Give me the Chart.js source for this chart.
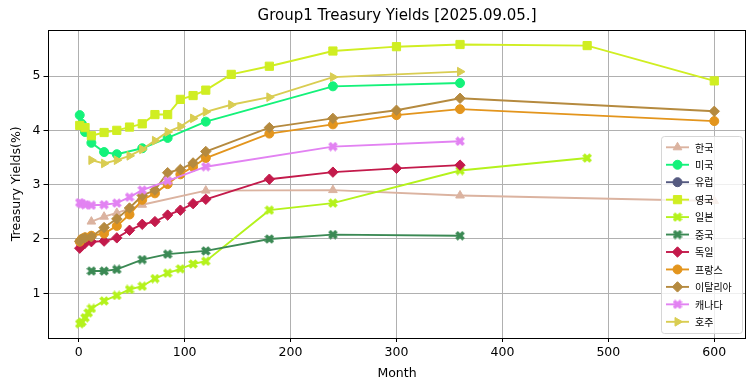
<!DOCTYPE html>
<html>
<head>
<meta charset="utf-8">
<script src="https://cdn.jsdelivr.net/npm/chart.js@4/dist/chart.umd.min.js"></script>
<style>
  html, body { margin: 0; padding: 0; background: #fff; }
  #wrap { width: 755px; height: 391px; }
</style>
</head>
<body>
<div id="wrap"><canvas id="yieldCanvas"></canvas></div>
<script>
const titleText = 'Group1 Treasury Yields [2025.09.05.]';
const xTicks = [0, 100, 200, 300, 400, 500, 600];
const yTicks = [1, 2, 3, 4, 5];
const names = ['한국', '미국', '유럽', '영국', '일본', '중국', '독일', '프랑스', '이탈리아', '캐나다', '호주'];

// maturities in months, yields in %
const krMonths = [12, 24, 36, 60, 120, 240, 360, 600];
const krYields = [2.32, 2.41, 2.48, 2.63, 2.89, 2.90, 2.80, 2.70];
const usMonths = [1, 3, 6, 12, 24, 36, 60, 84, 120, 240, 360];
const usYields = [4.28, 4.12, 3.97, 3.77, 3.60, 3.56, 3.67, 3.86, 4.16, 4.81, 4.87];
const euMonths = [];
const euYields = [];
const ukMonths = [1, 6, 12, 24, 36, 48, 60, 72, 84, 96, 108, 120, 144, 180, 240, 300, 360, 480, 600];
const ukYields = [4.09, 4.05, 3.90, 3.96, 4.00, 4.06, 4.12, 4.29, 4.29, 4.57, 4.64, 4.74, 5.03, 5.18, 5.46, 5.54, 5.58, 5.56, 4.91];
const jpMonths = [1, 3, 6, 9, 12, 24, 36, 48, 60, 72, 84, 96, 108, 120, 180, 240, 360, 480];
const jpYields = [0.44, 0.47, 0.55, 0.64, 0.72, 0.86, 0.96, 1.07, 1.13, 1.27, 1.37, 1.45, 1.54, 1.59, 2.53, 2.66, 3.26, 3.49];
const cnMonths = [12, 24, 36, 60, 84, 120, 180, 240, 360];
const cnYields = [1.41, 1.41, 1.44, 1.62, 1.72, 1.78, 2.00, 2.08, 2.06];
const deMonths = [1, 3, 6, 12, 24, 36, 48, 60, 72, 84, 96, 108, 120, 180, 240, 300, 360];
const deYields = [1.83, 1.88, 1.92, 1.95, 1.96, 2.02, 2.16, 2.27, 2.32, 2.44, 2.53, 2.65, 2.73, 3.10, 3.23, 3.30, 3.36];
const frMonths = [1, 3, 6, 12, 24, 36, 48, 60, 72, 84, 96, 108, 120, 180, 240, 300, 360, 600];
const frYields = [1.95, 2.00, 2.03, 2.06, 2.10, 2.24, 2.45, 2.72, 2.84, 3.01, 3.19, 3.33, 3.49, 3.94, 4.11, 4.28, 4.39, 4.17];
const itMonths = [1, 3, 6, 12, 24, 36, 48, 60, 72, 84, 96, 108, 120, 180, 240, 300, 360, 600];
const itYields = [1.96, 2.00, 2.02, 2.04, 2.21, 2.37, 2.57, 2.80, 2.90, 3.22, 3.28, 3.40, 3.61, 4.05, 4.22, 4.37, 4.59, 4.35];
const caMonths = [1, 3, 6, 12, 24, 36, 48, 60, 84, 120, 240, 360];
const caYields = [2.67, 2.65, 2.63, 2.62, 2.63, 2.66, 2.77, 2.90, 3.07, 3.33, 3.70, 3.80];
const auMonths = [12, 24, 36, 48, 60, 72, 84, 96, 108, 120, 144, 180, 240, 360];
const auYields = [3.45, 3.39, 3.45, 3.53, 3.65, 3.81, 3.97, 4.07, 4.22, 4.34, 4.47, 4.61, 4.98, 5.08];

const months = [krMonths, usMonths, euMonths, ukMonths, jpMonths, cnMonths, deMonths, frMonths, itMonths, caMonths, auMonths];
const yields = [krYields, usYields, euYields, ukYields, jpYields, cnYields, deYields, frYields, itYields, caYields, auYields];

const colors = ['#dbb3a0', '#14f27a', '#555a80', '#d0ee22', '#b4f21c', '#3b8954', '#c31a4b', '#e3951d', '#b58a3f', '#e282f2', '#d9cd52'];

// filled "X" marker like matplotlib's
function xMark(color, s) {
    const c = document.createElement('canvas');
    c.width = s; c.height = s;
    const g = c.getContext('2d');
    g.translate(s / 2, s / 2);
    g.rotate(Math.PI / 4);
    g.fillStyle = color;
    const L = s, t = s * 0.36;
    g.fillRect(-L / 2, -t / 2, L, t);
    g.fillRect(-t / 2, -L / 2, t, L);
    return c;
}

const markers = [
    { style: 'triangle', r: 5, rot: 0 },
    { style: 'circle', r: 4.5, rot: 0 },
    { style: 'circle', r: 4.5, rot: 0 },
    { style: 'rect', r: 5.8, rot: 0 },
    { style: xMark(colors[4], 10), r: 5, rot: 0 },
    { style: xMark(colors[5], 10), r: 5, rot: 0 },
    { style: 'rectRot', r: 5.2, rot: 0 },
    { style: 'circle', r: 4.5, rot: 0 },
    { style: 'rectRot', r: 5.2, rot: 0 },
    { style: xMark(colors[9], 10), r: 5, rot: 0 },
    { style: 'triangle', r: 5, rot: 90 },
];

const datasets = names.map((name, i) => ({
    label: name,
    data: months[i].map((m, k) => ({ x: m, y: yields[i][k] })),
    borderColor: colors[i],
    backgroundColor: colors[i],
    borderWidth: 1.9,
    pointStyle: markers[i].style,
    pointRadius: markers[i].r,
    pointRotation: markers[i].rot,
    pointBorderWidth: 1,
    pointBackgroundColor: colors[i],
    pointBorderColor: colors[i],
    tension: 0,
    fill: false,
    order: -i
}));

const font = { family: 'DejaVu Sans', size: 12.5 };

const frameAndLegend = {
    id: 'frameAndLegend',
    afterDraw(chart) {
        const { ctx, chartArea: a } = chart;
        ctx.save();
        ctx.strokeStyle = '#000';
        ctx.lineWidth = 1;
        ctx.strokeRect(Math.round(a.left) + 0.5, Math.round(a.top) + 0.5,
            Math.round(a.right - a.left) - 1, Math.round(a.bottom - a.top));

        ctx.fillStyle = '#000';
        ctx.font = '15px "DejaVu Sans"';
        ctx.textAlign = 'center';
        ctx.textBaseline = 'middle';
        ctx.fillText(titleText, (a.left + a.right) / 2, 16);

        // legend box, lower right
        const bx = 661.5, by = 136.5, bw = 81, bh = 197;
        ctx.fillStyle = 'rgba(255,255,255,0.8)';
        ctx.strokeStyle = '#d6d6d6';
        ctx.beginPath();
        if (ctx.roundRect) ctx.roundRect(bx, by, bw, bh, 3); else ctx.rect(bx, by, bw, bh);
        ctx.fill();
        ctx.stroke();

        ctx.font = '10px "Noto Sans CJK KR"';
        ctx.textAlign = 'left';
        ctx.textBaseline = 'middle';
        names.forEach((name, i) => {
            const y = 147.3 + i * 17.45;
            ctx.strokeStyle = colors[i];
            ctx.fillStyle = colors[i];
            ctx.lineWidth = 1.9;
            ctx.beginPath();
            ctx.moveTo(666, y);
            ctx.lineTo(689, y);
            ctx.stroke();
            ctx.lineWidth = 1;
            Chart.helpers.drawPoint(ctx, {
                pointStyle: markers[i].style,
                radius: markers[i].r,
                rotation: markers[i].rot,
                borderWidth: 1
            }, 677.5, y);
            ctx.fillStyle = '#000';
            ctx.fillText(name, 695, y + 0.5);
        });
        ctx.restore();
    }
};

new Chart(document.getElementById('yieldCanvas'), {
    type: 'line',
    data: { datasets: datasets },
    options: {
        responsive: true,
        maintainAspectRatio: false,
        animation: false,
        devicePixelRatio: 1,
        layout: { padding: { top: 30, right: 9, left: 0, bottom: 0 } },
        plugins: {
            legend: { display: false },
            tooltip: { enabled: false },
            title: { display: false }
        },
        scales: {
            x: {
                type: 'linear',
                min: -28.95,
                max: 629.95,
                afterBuildTicks: s => { s.ticks = xTicks.map(v => ({ value: v })); },
                afterFit: s => { s.height = 53.5; },
                grid: { color: '#b0b0b0', lineWidth: 1, tickColor: '#000', tickLength: 4.5 },
                border: { display: false },
                ticks: { color: '#000', font: font, padding: 3, maxRotation: 0, autoSkip: false },
                title: { display: true, text: 'Month', color: '#000', font: font, padding: { top: 0, bottom: 9.5 } }
            },
            y: {
                type: 'linear',
                min: 0.186,
                max: 5.847,
                afterBuildTicks: s => { s.ticks = yTicks.map(v => ({ value: v })); },
                afterFit: s => { s.width = 48; },
                grid: { color: '#b0b0b0', lineWidth: 1, tickColor: '#000', tickLength: 4.5 },
                border: { display: false },
                ticks: { color: '#000', font: font, padding: 3, autoSkip: false },
                title: { display: true, text: 'Treasury Yields(%)', color: '#000', font: font, padding: { top: 9.5, bottom: 0 } }
            }
        }
    },
    plugins: [frameAndLegend]
});
</script>
</body>
</html>
